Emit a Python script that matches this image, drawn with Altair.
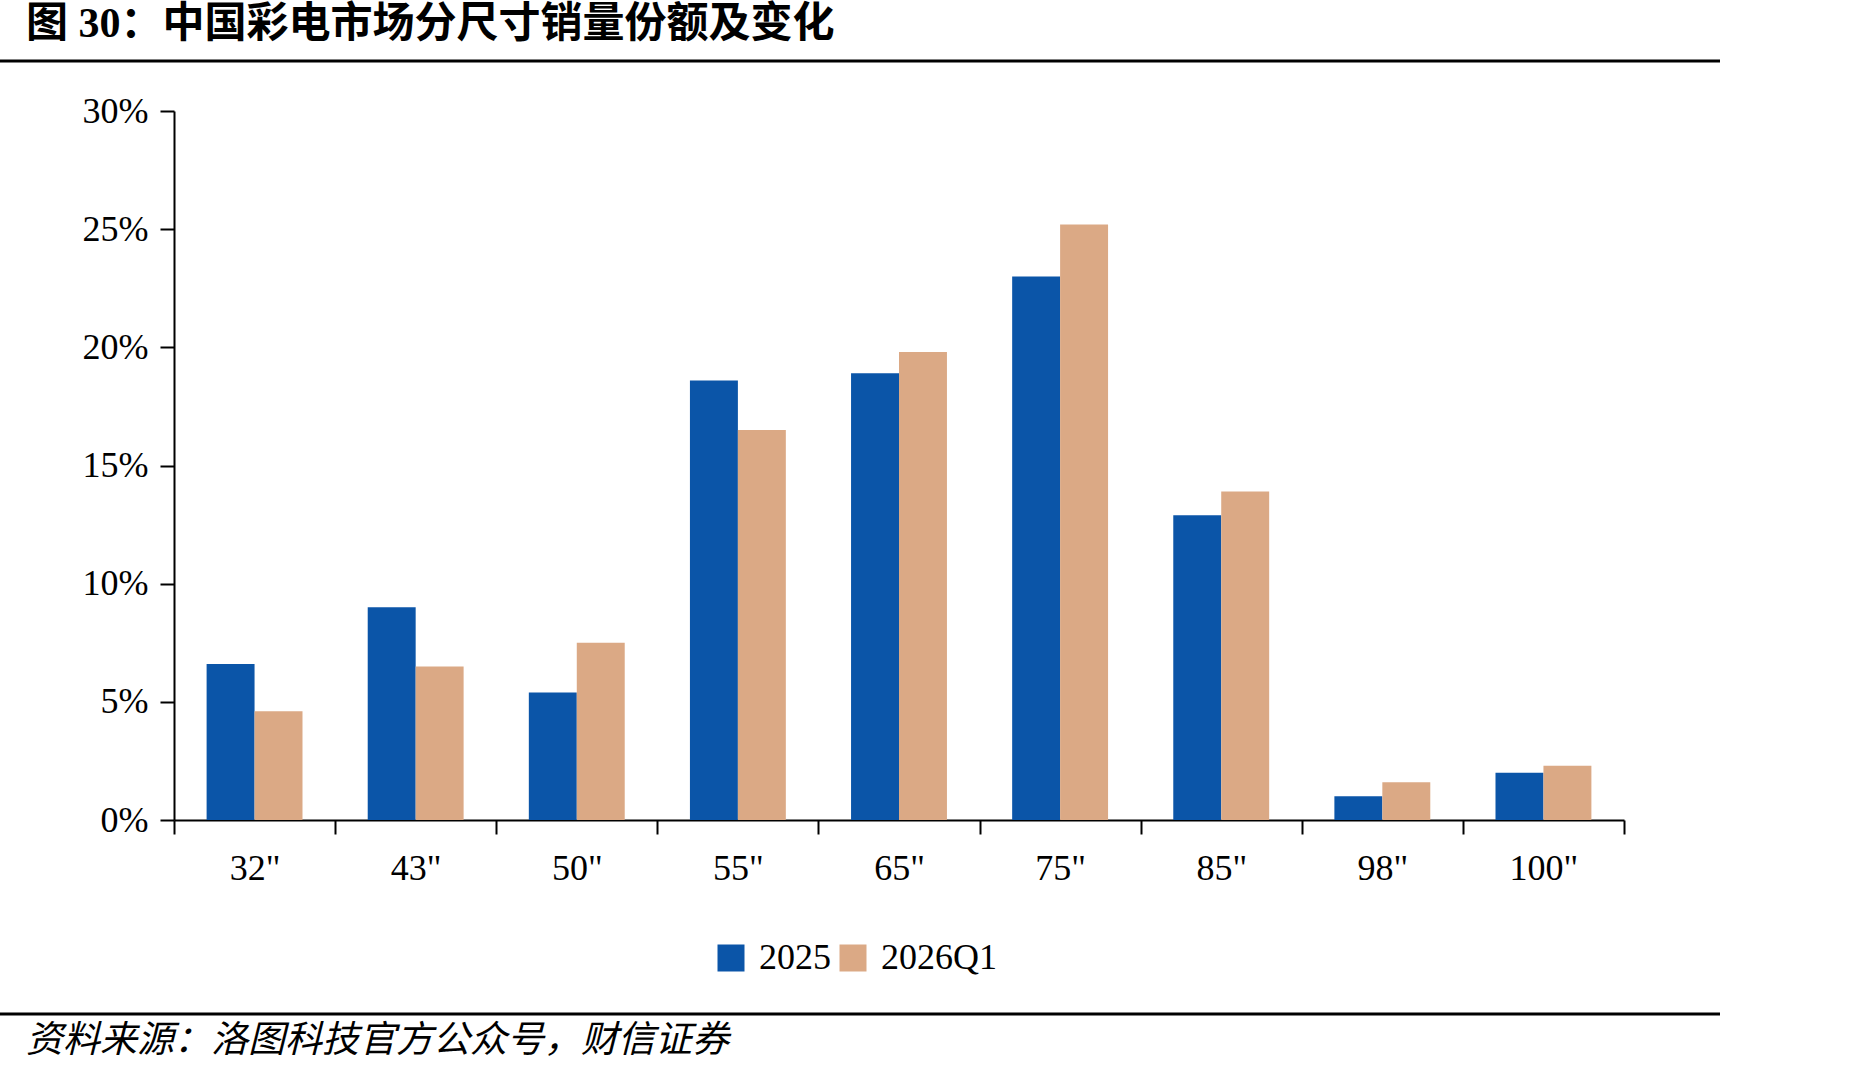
import altair as alt
import pandas as pd

# Screen sizes and share of TV unit sales (%)
sizes = ['32"', '43"', '50"', '55"', '65"', '75"', '85"', '98"', '100"']
share_2025 = [6.6, 9.0, 5.4, 18.6, 18.9, 23.0, 12.9, 1.0, 2.0]
share_2026q1 = [4.6, 6.5, 7.5, 16.5, 19.8, 25.2, 13.9, 1.6, 2.3]
series = ["2025", "2026Q1"]
colors = ["#0B55A8", "#DBA985"]

title_text = "图 30：中国彩电市场分尺寸销量份额及变化"
source_text = "资料来源：洛图科技官方公众号，财信证券"

rows = []
for s, a, b in zip(sizes, share_2025, share_2026q1):
    rows.append({"size": s, "series": series[0], "share": a / 100})
    rows.append({"size": s, "series": series[1], "share": b / 100})
df = pd.DataFrame(rows)

SERIF = "Liberation Serif, Noto Sans CJK SC"
W, H = 1450, 709

bars = alt.Chart(df).mark_bar().encode(
    x=alt.X(
        "size:N",
        sort=sizes,
        title=None,
        scale=alt.Scale(paddingInner=0, paddingOuter=0),
        axis=alt.Axis(
            labelAngle=0,
            labelFont=SERIF,
            labelFontSize=36,
            labelColor="black",
            labelPadding=17,
            tickBand="extent",
            tickSize=14,
            tickWidth=2,
            tickColor="black",
            domainColor="black",
            domainWidth=2,
        ),
    ),
    xOffset=alt.XOffset("series:N", sort=series, scale=alt.Scale(paddingOuter=0.68, paddingInner=0)),
    y=alt.Y(
        "share:Q",
        title=None,
        scale=alt.Scale(domain=[0, 0.30], nice=False),
        axis=alt.Axis(
            values=[0, 0.05, 0.10, 0.15, 0.20, 0.25, 0.30],
            format=".0%",
            grid=False,
            labelFont=SERIF,
            labelFontSize=36,
            labelColor="black",
            labelPadding=12,
            tickSize=14,
            tickWidth=2,
            tickColor="black",
            domainColor="black",
            domainWidth=2,
        ),
    ),
    color=alt.Color(
        "series:N",
        sort=series,
        scale=alt.Scale(domain=series, range=colors),
        legend=alt.Legend(
            title=None,
            orient="none",
            legendX=539,
            legendY=829,
            direction="horizontal",
            symbolType="square",
            symbolSize=729,
            symbolStrokeWidth=0,
            labelFont=SERIF,
            labelFontSize=36,
            labelColor="black",
            labelOffset=10,
            columnPadding=4,
        ),
    ),
)

title = alt.Chart(pd.DataFrame({"t": [title_text]})).mark_text(
    align="left", baseline="middle", font=SERIF, fontSize=42, fontWeight="bold", color="black"
).encode(x=alt.value(-148), y=alt.value(-87), text="t:N")

source = alt.Chart(pd.DataFrame({"t": [source_text]})).mark_text(
    align="left", baseline="middle", font="Noto Sans CJK SC", fontSize=37, fontStyle="italic", color="black"
).encode(x=alt.value(-148), y=alt.value(930), text="t:N")

top_rule = alt.Chart(pd.DataFrame({"a": [0]})).mark_rule(color="black", strokeWidth=3).encode(
    x=alt.value(-174), x2=alt.value(1546), y=alt.value(-50)
)
bottom_rule = alt.Chart(pd.DataFrame({"a": [0]})).mark_rule(color="black", strokeWidth=3).encode(
    x=alt.value(-174), x2=alt.value(1546), y=alt.value(903)
)

chart = alt.layer(bars, title, source, top_rule, bottom_rule).properties(
    width=W,
    height=H,
    background="white",
    autosize=alt.AutoSizeParams(type="none"),
    padding={"left": 174, "top": 111, "right": 229, "bottom": 255},
).configure_view(strokeWidth=0, stroke="transparent")

chart.save("out.html", embed_options={"renderer": "svg", "actions": False})
